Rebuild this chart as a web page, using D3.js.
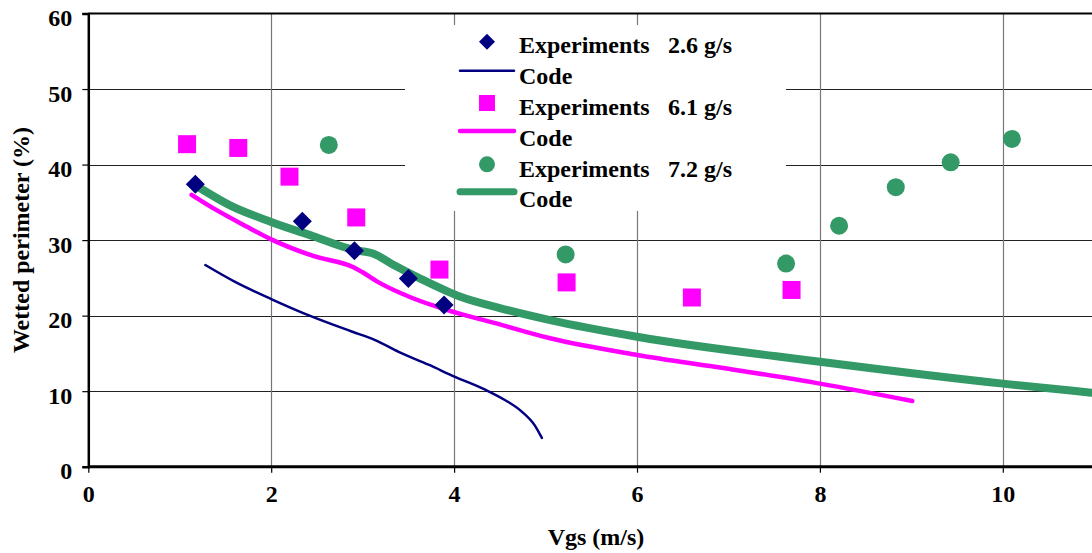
<!DOCTYPE html>
<html>
<head>
<meta charset="utf-8">
<script src="https://cdn.jsdelivr.net/npm/d3@7"></script>
<style>
  html, body { margin: 0; padding: 0; background: #fff; }
  svg { display: block; }
  text { font-family: "Liberation Serif", "Times New Roman", serif; font-weight: bold; fill: #000; }
</style>
</head>
<body>
<svg id="chart" width="1092" height="553"></svg>
<script>
// ---------- DATA ----------
const xTicks = [0, 2, 4, 6, 8, 10];
const yTicks = [0, 10, 20, 30, 40, 50, 60];

// Experiments 2.6 g/s (diamonds)
const exp26X = [1.17, 2.34, 2.91, 3.50, 3.89];
const exp26Y = [37.4, 32.5, 28.6, 24.9, 21.4];
// Code 2.6 g/s
const code26X = [1.28, 1.60, 2.00, 2.44, 2.88, 3.13, 3.43, 3.72, 4.01, 4.34, 4.56, 4.74, 4.88, 4.96];
const code26Y = [26.7, 24.5, 22.2, 19.9, 17.9, 16.8, 15.0, 13.5, 11.9, 10.2, 8.8, 7.3, 5.5, 3.8];

// Experiments 6.1 g/s (squares)
const exp61X = [1.08, 1.64, 2.20, 2.93, 3.84, 5.23, 6.60, 7.69];
const exp61Y = [42.7, 42.2, 38.4, 33.0, 26.1, 24.4, 22.4, 23.4];
// Code 6.1 g/s
const code61X = [1.13, 1.37, 1.73, 2.00, 2.46, 2.90, 2.99, 3.19, 3.55, 3.91, 4.45, 5.05, 6.00, 6.98, 8.00, 9.01];
const code61Y = [36.0, 34.2, 31.8, 30.1, 27.9, 26.4, 25.8, 24.3, 22.3, 20.8, 19.0, 17.0, 14.8, 13.0, 11.0, 8.7];

// Experiments 7.2 g/s (circles)
const exp72X = [2.63, 5.22, 7.63, 8.21, 8.83, 9.43, 10.10];
const exp72Y = [42.6, 28.1, 26.9, 31.9, 37.0, 40.3, 43.4];
// Code 7.2 g/s
const code72X = [1.22, 1.55, 2.00, 2.46, 2.90, 3.12, 3.34, 3.63, 4.07, 4.50, 5.05, 6.00, 8.00, 10.00, 10.97, 11.30];
const code72Y = [36.9, 34.6, 32.4, 30.5, 28.7, 28.2, 26.7, 24.9, 22.5, 21.0, 19.4, 17.2, 13.9, 11.0, 9.8, 9.4];

const legendLabels = ["Experiments", "Code", "Experiments", "Code", "Experiments", "Code"];
const legendRates = ["2.6 g/s", "", "6.1 g/s", "", "7.2 g/s", ""];

const xTitle = "Vgs (m/s)";
const yTitle = "Wetted perimeter (%)";

// ---------- CHART ----------
const svg = d3.select("#chart");
const x = d3.scaleLinear().domain([0, 12]).range([88.3, 88.3 + 12 * 91.45]);
const y = d3.scaleLinear().domain([0, 60]).range([466.7, 13.5]);

const NAVY = "#000080", MAG = "#FF00FF", GREEN = "#339966";
const FS = 24;
const FONT = '"Liberation Serif", "Times New Roman", serif';

// grid lines
svg.append("g").selectAll("line").data(yTicks.filter(d => d > 0 && d < 60)).join("line")
  .attr("x1", x(0)).attr("x2", 1092)
  .attr("y1", d => Math.round(y(d)) + 0.5).attr("y2", d => Math.round(y(d)) + 0.5)
  .attr("stroke", "#222").attr("stroke-width", 1.2);
svg.append("g").selectAll("line").data(xTicks.filter(d => d > 0)).join("line")
  .attr("x1", d => Math.round(x(d)) + 0.5).attr("x2", d => Math.round(x(d)) + 0.5)
  .attr("y1", y(60)).attr("y2", y(0))
  .attr("stroke", "#777").attr("stroke-width", 1.2);

// legend background (covers grid)
svg.append("rect").attr("x", 405).attr("y", 25).attr("width", 381).attr("height", 186).attr("fill", "#fff");

// top border
svg.append("line").attr("x1", x(0)).attr("x2", 1092).attr("y1", y(60)).attr("y2", y(60))
  .attr("stroke", "#000").attr("stroke-width", 2.2);

// axes
const yAxis = d3.axisLeft(y).tickValues(yTicks).tickSize(6).tickPadding(10).tickFormat(d3.format("d"));
const gy = svg.append("g").attr("transform", `translate(${x(0)},0)`).call(yAxis);
gy.select(".domain").attr("stroke", "#000").attr("stroke-width", 2.5);
gy.selectAll(".tick line").attr("stroke", "#000").attr("stroke-width", 1.2);
gy.selectAll(".tick text").attr("font-size", FS).attr("dy", "0.5em")
  .style("font-family", FONT).style("font-weight", "bold");

const xAxis = d3.axisBottom(x).tickValues(xTicks).tickSize(6).tickPadding(29).tickFormat(d3.format("d"));
const gx = svg.append("g").attr("transform", `translate(0,${y(0)})`).call(xAxis);
gx.select(".domain").attr("stroke", "#000").attr("stroke-width", 3);
gx.selectAll(".tick line").attr("stroke", "#000").attr("stroke-width", 1.2);
gx.selectAll(".tick text").attr("font-size", FS).attr("dy", "0")
  .style("font-family", FONT).style("font-weight", "bold");
gx.select(".domain").attr("d", `M${x(0)},0H1092`);

// titles
svg.append("text").attr("x", 596).attr("y", 545).attr("text-anchor", "middle")
  .attr("font-size", FS).text(xTitle);
svg.append("text").attr("transform", "translate(29,240) rotate(-90)").attr("text-anchor", "middle")
  .attr("font-size", FS).text(yTitle);

// lines
const line = d3.line().x(d => x(d[0])).y(d => y(d[1])).curve(d3.curveMonotoneX);
const zip = (a, b) => a.map((v, i) => [v, b[i]]);

svg.append("path").datum(zip(code26X, code26Y)).attr("d", line)
  .attr("fill", "none").attr("stroke", NAVY).attr("stroke-width", 2.5).attr("stroke-linecap", "round");
svg.append("path").datum(zip(code61X, code61Y)).attr("d", line)
  .attr("fill", "none").attr("stroke", MAG).attr("stroke-width", 4.5).attr("stroke-linecap", "round");
svg.append("path").datum(zip(code72X, code72Y)).attr("d", line)
  .attr("fill", "none").attr("stroke", GREEN).attr("stroke-width", 8).attr("stroke-linecap", "round");

// markers
const diamond = (cx, cy, r) => `M${cx},${cy - r}L${cx + r},${cy}L${cx},${cy + r}L${cx - r},${cy}Z`;
svg.append("g").selectAll("rect").data(zip(exp61X, exp61Y)).join("rect")
  .attr("x", d => x(d[0]) - 9).attr("y", d => y(d[1]) - 9).attr("width", 18).attr("height", 18).attr("fill", MAG);
svg.append("g").selectAll("circle").data(zip(exp72X, exp72Y)).join("circle")
  .attr("cx", d => x(d[0])).attr("cy", d => y(d[1])).attr("r", 9).attr("fill", GREEN);
svg.append("g").selectAll("path").data(zip(exp26X, exp26Y)).join("path")
  .attr("d", d => diamond(x(d[0]), y(d[1]), 9.5)).attr("fill", NAVY);

// legend
const lg = svg.append("g");
const baselines = [53.3, 84, 115, 146, 176.7, 207];
const symY = [41.7, 70.7, 103, 131, 164.3, 191.7];
lg.append("path").attr("d", diamond(487, symY[0], 8)).attr("fill", NAVY);
lg.append("line").attr("x1", 460).attr("x2", 514).attr("y1", symY[1]).attr("y2", symY[1])
  .attr("stroke", NAVY).attr("stroke-width", 2.5).attr("stroke-linecap", "round");
lg.append("rect").attr("x", 487 - 8).attr("y", symY[2] - 8).attr("width", 16).attr("height", 16).attr("fill", MAG);
lg.append("line").attr("x1", 460).attr("x2", 514).attr("y1", symY[3]).attr("y2", symY[3])
  .attr("stroke", MAG).attr("stroke-width", 4.5).attr("stroke-linecap", "round");
lg.append("circle").attr("cx", 487).attr("cy", symY[4]).attr("r", 8).attr("fill", GREEN);
lg.append("line").attr("x1", 460).attr("x2", 514).attr("y1", symY[5]).attr("y2", symY[5])
  .attr("stroke", GREEN).attr("stroke-width", 7).attr("stroke-linecap", "round");

legendLabels.forEach((t, i) => {
  lg.append("text").attr("x", 519).attr("y", baselines[i]).attr("font-size", FS).text(t);
  if (legendRates[i]) lg.append("text").attr("x", 668).attr("y", baselines[i]).attr("font-size", FS).text(legendRates[i]);
});
</script>
</body>
</html>
